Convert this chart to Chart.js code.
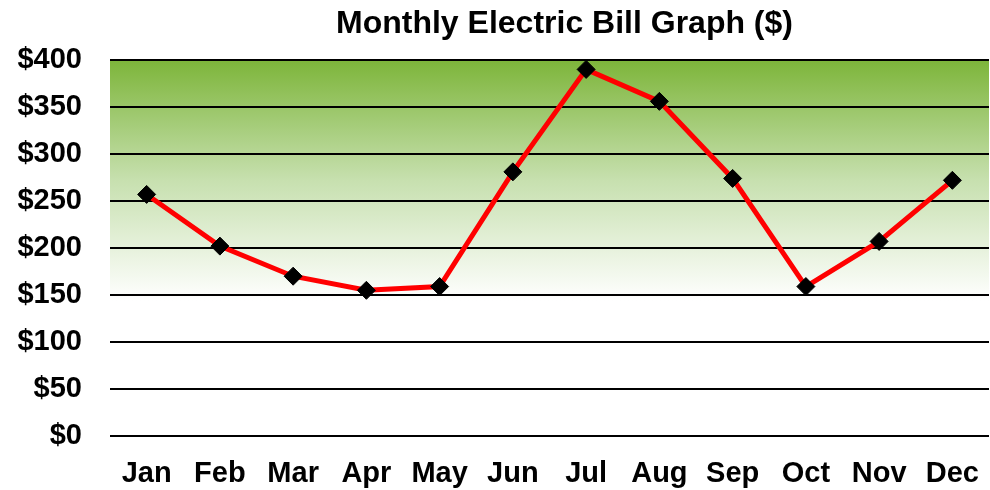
<!DOCTYPE html>
<html>
<head>
<meta charset="utf-8">
<script src="https://cdn.jsdelivr.net/npm/chart.js@4/dist/chart.umd.min.js"></script>
<style>
  html, body { margin: 0; padding: 0; background: #fff; overflow: hidden; }
  #wrap { width: 990px; height: 490px; }
</style>
</head>
<body>
<div id="wrap"><canvas id="billChart" width="990" height="490"></canvas></div>
<script>
// chart data
const months = ['Jan', 'Feb', 'Mar', 'Apr', 'May', 'Jun', 'Jul', 'Aug', 'Sep', 'Oct', 'Nov', 'Dec'];
const billAmounts = [257, 202, 170, 155, 159, 281, 390, 356, 274, 159, 207, 272];
const yTicks = [0, 50, 100, 150, 200, 250, 300, 350, 400];
const chartTitle = 'Monthly Electric Bill Graph ($)';

const FONT = '"Liberation Sans", Arial, sans-serif';

// green gradient behind the plot area + title drawn over the plot centre
const plotBackground = {
    id: 'plotBackground',
    beforeDraw(chart) {
        const { ctx, chartArea } = chart;
        const h = chartArea.bottom - chartArea.top;
        const grad = ctx.createLinearGradient(0, chartArea.top, 0, chartArea.top + h * 0.64);
        grad.addColorStop(0, '#7db53a');
        grad.addColorStop(0.5, '#c7e0af');
        grad.addColorStop(1, '#ffffff');
        ctx.save();
        ctx.fillStyle = grad;
        ctx.fillRect(chartArea.left, chartArea.top, chartArea.right - chartArea.left, h);
        ctx.restore();
    },
    afterDraw(chart) {
        const { ctx, chartArea } = chart;
        ctx.save();
        ctx.font = 'bold 32px ' + FONT;
        ctx.fillStyle = '#000';
        ctx.textAlign = 'center';
        ctx.textBaseline = 'middle';
        ctx.fillText(chartTitle, (chartArea.left + chartArea.right) / 2 + 15, 24);
        ctx.restore();
    }
};

new Chart(document.getElementById('billChart').getContext('2d'), {
    type: 'line',
    data: {
        labels: months,
        datasets: [{
            label: 'Bill',
            data: billAmounts,
            borderColor: '#ff0000',
            borderWidth: 5,
            tension: 0,
            fill: false,
            pointStyle: 'rectRot',
            pointRadius: 9,
            pointBackgroundColor: '#000',
            pointBorderColor: '#000',
            pointBorderWidth: 1
        }]
    },
    options: {
        responsive: false,
        animation: false,
        // autoPadding would reserve room for the markers on the right
        layout: { autoPadding: false, padding: { top: 60, right: 1, bottom: 2, left: 0 } },
        plugins: {
            legend: { display: false },
            tooltip: { enabled: false }
        },
        scales: {
            x: {
                offset: true,
                afterFit(scale) {
                    scale.height = 52;
                    scale.paddingLeft = 0;
                    scale.paddingRight = 0;
                },
                grid: { display: false },
                border: { display: false },
                ticks: {
                    color: '#000',
                    padding: 13,
                    maxRotation: 0,
                    font: { family: FONT, size: 29, weight: 'bold' }
                }
            },
            y: {
                min: 0,
                max: 400,
                afterBuildTicks(scale) {
                    scale.ticks = yTicks.map(v => ({ value: v }));
                },
                afterFit(scale) { scale.width = 110; },
                grid: { color: '#000', lineWidth: 2, drawTicks: false },
                border: { display: false },
                ticks: {
                    color: '#000',
                    padding: 28,
                    font: { family: FONT, size: 29, weight: 'bold' },
                    callback: v => '$' + v
                }
            }
        }
    },
    plugins: [plotBackground]
});
</script>
</body>
</html>
